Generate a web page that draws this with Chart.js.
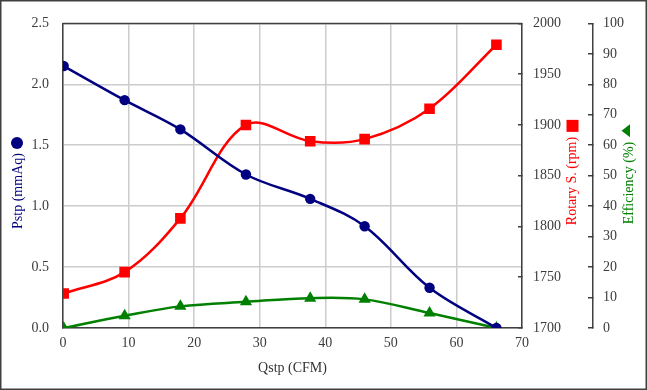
<!DOCTYPE html>
<html><head><meta charset="utf-8">
<script src="https://cdn.jsdelivr.net/npm/chart.js@4.4.1/dist/chart.umd.min.js"></script>
<style>html,body{margin:0;padding:0;background:#fff;}canvas{display:block}</style>
</head><body>
<canvas id="c" width="647" height="390"></canvas>
<script>
const qstp = [0.1, 9.4, 17.9, 27.9, 37.7, 46.0, 55.9, 66.1];
const pstp = [2.15, 1.87, 1.63, 1.26, 1.06, 0.835, 0.33, 0.0];
const rpm  = [1734, 1755, 1808, 1900, 1884, 1886, 1916, 1979];
const eff  = [0.0, 4.0, 7.1, 8.6, 9.8, 9.4, 4.9, 0.0];
const xTitle = 'Qstp (CFM)';
const pTitle = 'Pstp (mmAq)';
const rTitle = 'Rotary S. (rpm)';
const eTitle = 'Efficiency (%)';

const NAVY = '#000080', RED = '#ff0000', GREEN = '#008000';
const FONT = '"Liberation Serif", "DejaVu Serif", serif';
const TICKC = '#3c3c3c', AXC = '#404040', GRIDC = '#cccccc';

const pts = (ys) => qstp.map((x, i) => ({x, y: ys[i]}));

function vTitle(ctx, text, cx, cy, color) {
  ctx.save();
  ctx.translate(cx, cy);
  ctx.rotate(-Math.PI / 2);
  ctx.fillStyle = color;
  ctx.font = '14px ' + FONT;
  ctx.textAlign = 'center';
  ctx.textBaseline = 'middle';
  ctx.fillText(text, 0, 0);
  const w = ctx.measureText(text).width;
  ctx.restore();
  return w;
}

const decor = {
  id: 'decor',
  beforeDraw(chart) {
    const ctx = chart.ctx;
    ctx.save(); ctx.fillStyle = '#fff'; ctx.fillRect(0, 0, chart.width, chart.height); ctx.restore();
  },
  beforeDatasetsDraw(chart) {
    const {ctx, chartArea: a} = chart;
    ctx.save();
    ctx.strokeStyle = AXC; ctx.lineWidth = 1.5;
    ctx.beginPath(); ctx.moveTo(a.left, a.top); ctx.lineTo(a.right, a.top); ctx.stroke();
    ctx.restore();
  },
  afterDraw(chart) {
    const {ctx, chartArea: a} = chart;
    ctx.save();
    ctx.strokeStyle = AXC; ctx.lineWidth = 1.5;
    ctx.strokeRect(0.75, 0.75, chart.width - 1.5, chart.height - 1.5);
    ctx.fillStyle = '#333'; ctx.font = '14px ' + FONT;
    ctx.textAlign = 'center'; ctx.textBaseline = 'middle';
    ctx.fillText(xTitle, (a.left + a.right) / 2, 368);
    ctx.restore();

    let w = vTitle(ctx, pTitle, 18, 191, NAVY);
    ctx.save();
    ctx.fillStyle = NAVY;
    ctx.beginPath(); ctx.arc(17, 191 - w / 2 - 10, 6, 0, Math.PI * 2); ctx.fill();
    w = vTitle(ctx, rTitle, 572.5, 181, RED);
    ctx.fillStyle = RED;
    ctx.fillRect(566.5, 181 - w / 2 - 17, 12, 12);
    w = vTitle(ctx, eTitle, 629, 183, GREEN);
    const ty = 183 - w / 2 - 11;
    ctx.fillStyle = GREEN;
    ctx.beginPath(); ctx.moveTo(621.5, ty); ctx.lineTo(630, ty - 6.5); ctx.lineTo(630, ty + 6.5); ctx.closePath(); ctx.fill();
    ctx.restore();
  }
};

new Chart(document.getElementById('c'), {
  type: 'line',
  data: {
    datasets: [
      {label: pTitle, data: pts(pstp), yAxisID: 'y', borderColor: NAVY, backgroundColor: NAVY,
       borderWidth: 2.5, pointStyle: 'circle', pointRadius: 5.2, pointBorderWidth: 0, tension: 0.35},
      {label: rTitle, data: pts(rpm), yAxisID: 'yR', borderColor: RED, backgroundColor: RED,
       borderWidth: 2.5, pointStyle: 'rect', pointRadius: 7.5, pointBorderWidth: 0, tension: 0.35},
      {label: eTitle, data: pts(eff), yAxisID: 'yE', borderColor: GREEN, backgroundColor: GREEN,
       borderWidth: 2.5, pointStyle: 'triangle', pointRadius: 7, pointBorderWidth: 0, tension: 0.35}
    ]
  },
  options: {
    responsive: false, animation: false,
    layout: {padding: {top: 19, left: 0, right: 0, bottom: 0}},
    plugins: {legend: {display: false}, tooltip: {enabled: false}},
    scales: {
      x: {
        type: 'linear', position: 'bottom', min: 0, max: 70,
        ticks: {stepSize: 10, color: TICKC, font: {family: FONT, size: 14}, padding: 7,
                callback: v => String(v)},
        grid: {color: GRIDC, lineWidth: 1.5, drawTicks: false},
        border: {color: AXC, width: 1.5},
        afterFit(s) { s.height = 62; }
      },
      y: {
        position: 'left', min: 0, max: 2.5, weight: 0,
        ticks: {stepSize: 0.5, color: TICKC, font: {family: FONT, size: 14}, padding: 14,
                callback: v => Number(v).toFixed(1)},
        grid: {color: GRIDC, lineWidth: 1.5, drawTicks: false},
        border: {color: AXC, width: 1.5},
        afterFit(s) { s.width = 63; }
      },
      yR: {
        position: 'right', min: 1700, max: 2000, weight: 0,
        ticks: {stepSize: 50, color: TICKC, font: {family: FONT, size: 14}, padding: 15,
                callback: v => String(v)},
        grid: {drawOnChartArea: false, color: AXC, lineWidth: 1.5, tickLength: -4},
        border: {color: AXC, width: 1.5},
        afterFit(s) { s.width = 71; }
      },
      yE: {
        position: 'right', min: 0, max: 100, weight: 1,
        ticks: {stepSize: 10, color: TICKC, font: {family: FONT, size: 14}, padding: 15,
                callback: v => String(v)},
        grid: {drawOnChartArea: false, color: AXC, lineWidth: 1.5, tickLength: -5},
        border: {color: AXC, width: 1.5},
        afterFit(s) { s.width = 54; }
      }
    }
  },
  plugins: [decor]
});
</script>
</body></html>
